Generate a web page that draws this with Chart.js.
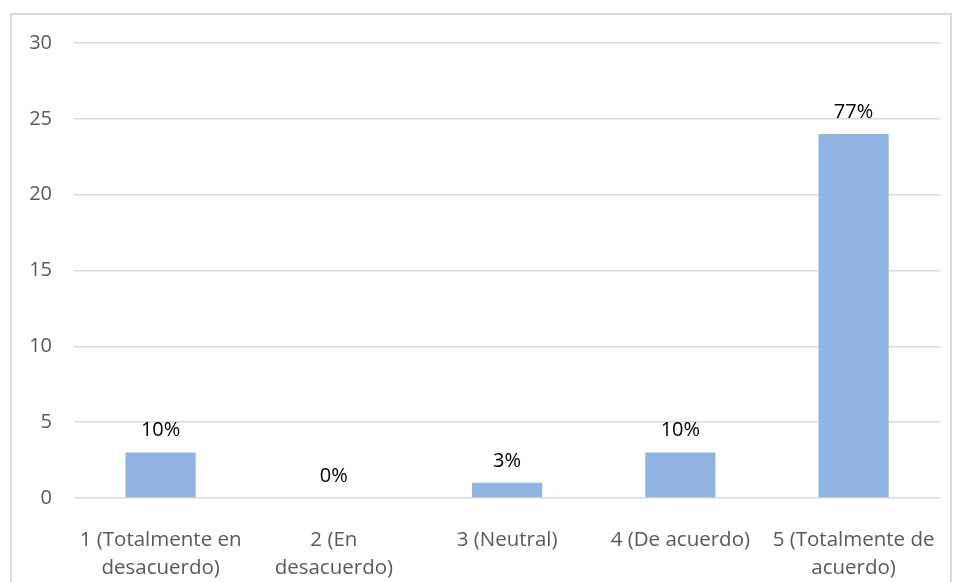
<!DOCTYPE html>
<html>
<head>
<meta charset="utf-8">
<script src="https://cdn.jsdelivr.net/npm/chart.js@4.4.1/dist/chart.umd.min.js"></script>
<style>
  html, body { margin: 0; padding: 0; background: #fff; overflow: hidden; }
  #wrap { width: 956px; height: 582px; position: relative; }
</style>
</head>
<body>
<div id="wrap"><canvas id="chart" width="956" height="582"></canvas></div>
<script>
// data
const categories = [
  ['1 (Totalmente en', 'desacuerdo)'],
  ['2 (En', 'desacuerdo)'],
  '3 (Neutral)',
  '4 (De acuerdo)',
  ['5 (Totalmente de', 'acuerdo)']
];
const counts = [3, 0, 1, 3, 24];
const percentLabels = ['10%', '0%', '3%', '10%', '77%'];
const yTicks = [0, 5, 10, 15, 20, 25, 30];

const FONT = '"Open Sans", Lato, sans-serif';

// light grey frame around the chart, like the office export
const framePlugin = {
  id: 'frame',
  beforeDraw(chart) {
    const ctx = chart.ctx;
    ctx.save();
    ctx.strokeStyle = '#d9d9d9';
    ctx.lineWidth = 2;
    ctx.strokeRect(11, 14, 940, 600);
    ctx.restore();
  }
};

// percentage text above each bar
const percentPlugin = {
  id: 'percentLabels',
  afterDatasetsDraw(chart) {
    const ctx = chart.ctx;
    const meta = chart.getDatasetMeta(0);
    ctx.save();
    ctx.font = '20px ' + FONT;
    ctx.fillStyle = '#000';
    ctx.textAlign = 'center';
    ctx.textBaseline = 'middle';
    meta.data.forEach((bar, i) => {
      ctx.fillText(percentLabels[i], bar.x, bar.y - 22);
    });
    ctx.restore();
  }
};

new Chart(document.getElementById('chart'), {
  type: 'bar',
  data: {
    labels: categories,
    datasets: [{
      data: counts,
      backgroundColor: '#8FB4E2',
      borderWidth: 0,
      categoryPercentage: 1,
      barPercentage: 0.405
    }]
  },
  options: {
    responsive: false,
    animation: false,
    layout: { padding: { top: 43, right: 15, left: 0, bottom: 0 } },
    plugins: {
      legend: { display: false },
      tooltip: { enabled: false }
    },
    scales: {
      y: {
        min: 0,
        max: 30,
        afterBuildTicks(axis) {
          axis.ticks = yTicks.map(v => ({ value: v }));
        },
        afterFit(axis) { axis.width = 74; },
        border: { display: false },
        grid: { color: '#d9d9d9', lineWidth: 1.6, drawTicks: false },
        ticks: {
          padding: 22,
          color: '#595959',
          font: { family: FONT, size: 20 }
        }
      },
      x: {
        afterFit(axis) { axis.height = 84; },
        border: { display: false },
        grid: { display: false },
        ticks: {
          padding: 20,
          maxRotation: 0,
          autoSkip: false,
          color: '#595959',
          font: { family: FONT, size: 20.5, lineHeight: 1.38 }
        }
      }
    }
  },
  plugins: [framePlugin, percentPlugin]
});
</script>
</body>
</html>
